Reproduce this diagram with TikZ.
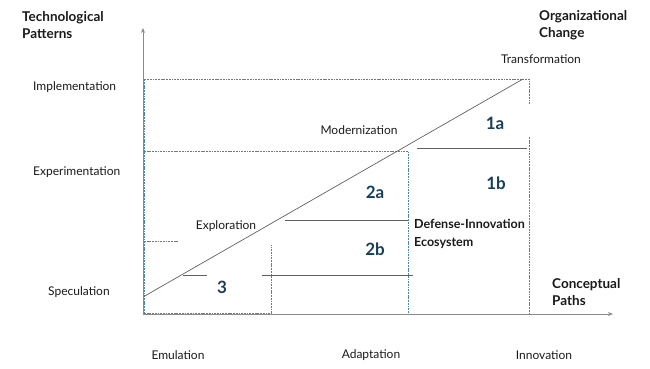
\documentclass[tikz,border=0pt]{standalone}
\usepackage{fontspec}
\setmainfont{Lato}
\usetikzlibrary{arrows.meta}
\definecolor{dashblue}{HTML}{4A86A8}
\definecolor{numblue}{HTML}{173F5C}
\definecolor{axisgray}{HTML}{8A8A8A}
\definecolor{linegray}{HTML}{606060}
\definecolor{txt}{HTML}{1A1A1A}
\tikzset{
  dotbox/.style={draw=dashblue, line width=1pt, dash pattern=on 1.8pt off 0.9pt},
  solidline/.style={draw=linegray, line width=0.7pt},
  axisline/.style={draw=axisgray, line width=0.9pt, -{Stealth[length=5pt,width=4pt]}},
  lbl/.style={font=\fontsize{12}{13}\selectfont, text=txt, inner sep=0pt},
  hdr/.style={font=\fontsize{13.5}{17.5}\selectfont\bfseries, text=txt, inner sep=0pt, align=left},
  num/.style={font=\fontsize{17}{17}\selectfont\bfseries, text=numblue, inner sep=0pt},
}
\begin{document}
\begin{tikzpicture}[x=1pt,y=-1pt]
\useasboundingbox (0,0) rectangle (650,369);
% coordinates
\coordinate (O) at (143,314);
\coordinate (ytip) at (143,28);
\coordinate (xtip) at (613,314);
% dotted boxes
\draw[dotbox] (529,104) -- (529,79) -- (144,79) -- (144,314);
\draw[dotbox] (529,137) -- (529,314);
\draw[dotbox] (144,151) -- (408,151) -- (408,314);
\draw[dotbox] (144,313) -- (271,313) -- (271,245);
\draw[dotbox] (144,241) -- (179,241);
% solid lines
\draw[solidline] (143,297) -- (523,79);
\draw[solidline] (417,148) -- (527,148);
\draw[solidline] (285,220) -- (408,220);
\draw[solidline] (183,275) -- (207,275);
\draw[solidline] (262,275) -- (413,275);
% axes
\draw[axisline] (O) -- (ytip);
\draw[axisline] (O) -- (xtip);
% headers
\node[hdr, anchor=west] (tp) at (22,25) {Technological\\Patterns};
\node[hdr, anchor=west] (oc) at (539,25) {Organizational\\Change};
\node[hdr, anchor=west] (cp) at (552,292) {Conceptual\\Paths};
% y labels
\node[lbl, anchor=west] (impl) at (33,87) {Implementation};
\node[lbl, anchor=west] (expe) at (33,172) {Experimentation};
\node[lbl, anchor=west] (spec) at (48,292) {Speculation};
% x labels
\node[lbl] (emu) at (178,355) {Emulation};
\node[lbl] (ada) at (371,355) {Adaptation};
\node[lbl] (inno) at (544,355) {Innovation};
% inner labels
\node[lbl] (trans) at (541,59) {Transformation};
\node[lbl] (mod) at (359,130) {Modernization};
\node[lbl] (expl) at (226,226) {Exploration};
\node[lbl, anchor=west, align=left, font=\fontsize{12.5}{17.5}\selectfont\bfseries] (dis) at (414,234) {Defense-Innovation\\Ecosystem};
% numbers
\node[num] (n1a) at (495,123) {1a};
\node[num] (n1b) at (496,183) {1b};
\node[num] (n2a) at (375,192) {2a};
\node[num] (n2b) at (375,249) {2b};
\node[num] (n3) at (222,287) {3};
\end{tikzpicture}
\end{document}
